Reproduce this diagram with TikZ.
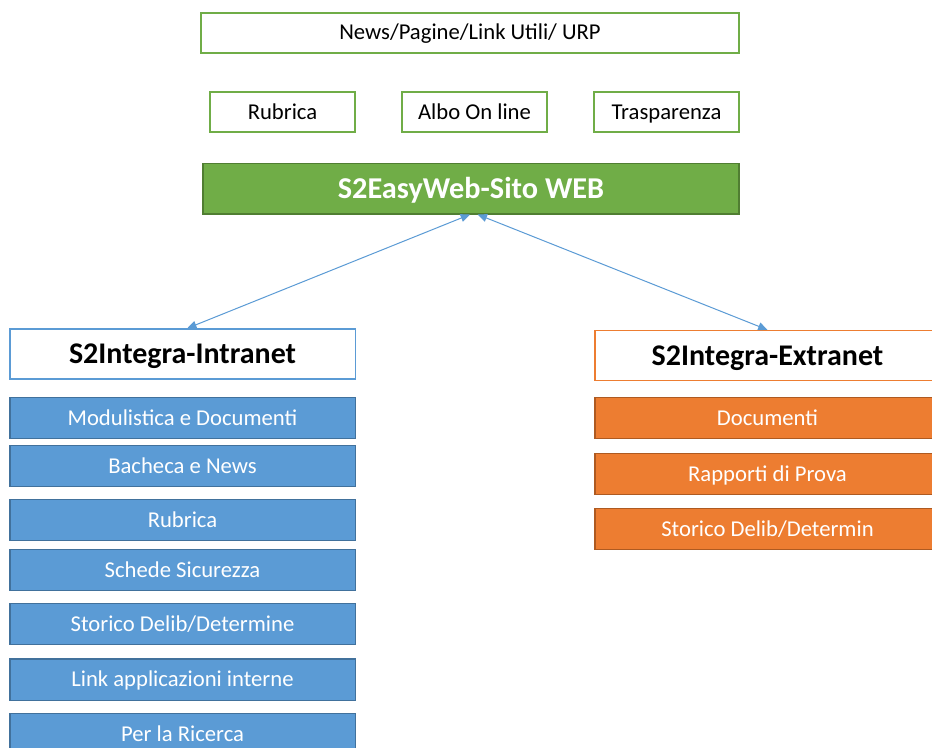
\documentclass[tikz,border=0pt]{standalone}
\usepackage{fontspec}
\setmainfont{Carlito}
\usetikzlibrary{arrows.meta}
\definecolor{gfill}{HTML}{70AD47}
\definecolor{gdark}{HTML}{507E32}
\definecolor{bfill}{HTML}{5B9BD5}
\definecolor{bdark}{HTML}{41719C}
\definecolor{ofill}{HTML}{ED7D31}
\definecolor{odark}{HTML}{AE5A21}
\tikzset{
  base/.style={inner sep=0pt, text depth=0pt},
  topbox/.style={base, text height=11pt, draw=gfill, line width=1.5pt, fill=white, minimum height=30pt, font=\fontsize{17}{19}\selectfont},
  webbox/.style={base, text height=14.6pt, draw=gdark, line width=1pt, fill=gfill, text=white, minimum width=402pt, minimum height=38pt, font=\fontsize{22.7}{25}\selectfont\bfseries},
  headbox/.style={base, text height=14.5pt, line width=1pt, fill=white, minimum width=259pt, minimum height=37.5pt, font=\fontsize{22.5}{25}\selectfont\bfseries},
  bluebox/.style={base, text height=11pt, draw=bdark, line width=1pt, fill=bfill, text=white, minimum width=259pt, minimum height=31pt, font=\fontsize{17}{19}\selectfont},
  orangebox/.style={base, text height=11pt, draw=odark, line width=1pt, fill=ofill, text=white, minimum width=259pt, minimum height=31pt, font=\fontsize{17}{19}\selectfont},
  link/.style={draw=bfill, line width=0.75pt, {Triangle[length=7pt,width=6pt]}-{Triangle[length=7pt,width=6pt]}}
}
\begin{document}
\begin{tikzpicture}[x=0.75pt,y=-0.75pt]
\useasboundingbox (0,0) rectangle (932,747);
\clip (0,0) rectangle (932,747);
\fill[white] (0,0) rectangle (932,747);
\node[topbox, minimum width=403.5pt] (news) at (470,32.5) {News/Pagine/Link Utili/ URP};
\node[topbox, minimum width=108.75pt] (rub) at (282.5,112) {Rubrica};
\node[topbox, minimum width=108.75pt] (albo) at (474.5,112) {Albo On line};
\node[topbox, minimum width=108.75pt] (trasp) at (666.5,112) {Trasparenza};
\node[webbox] (web) at (471,188.5) {S2EasyWeb-Sito WEB};
\node[headbox, draw=bfill] (intra) at (182.5,354) {S2Integra-Intranet};
\node[headbox, draw=ofill] (extra) at (767.5,355.5) {S2Integra-Extranet};
\node[bluebox] (b1) at (182.5,418) {Modulistica e Documenti};
\node[bluebox] (b2) at (182.5,466) {Bacheca e News};
\node[bluebox] (b3) at (182.5,520) {Rubrica};
\node[bluebox] (b4) at (182.5,570) {Schede Sicurezza};
\node[bluebox] (b5) at (182.5,624) {Storico Delib/Determine};
\node[bluebox] (b6) at (182.5,679.5) {Link applicazioni interne};
\node[bluebox] (b7) at (182.5,734) {Per la Ricerca};
\node[orangebox] (o1) at (767.5,418) {Documenti};
\node[orangebox] (o2) at (767.5,474) {Rapporti di Prova};
\node[orangebox] (o3) at (767.5,529) {Storico Delib/Determin};
\draw[link] ([xshift=-0.75pt]web.south) -- ([xshift=3.5pt]intra.north);
\draw[link] ([xshift=5pt]web.south) -- ([xshift=0pt]extra.north);
\end{tikzpicture}
\end{document}
